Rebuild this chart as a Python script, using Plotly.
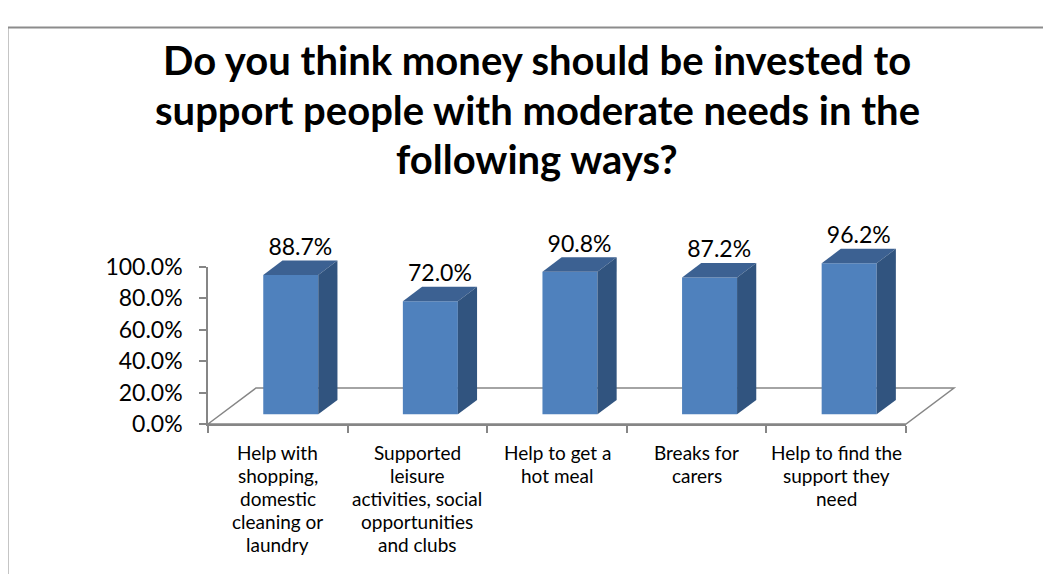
import plotly.graph_objects as go

# ---------------- data ----------------
categories = [
    "Help with<br>shopping,<br>domestic<br>cleaning or<br>laundry",
    "Supported<br>leisure<br>activities, social<br>opportunities<br>and clubs",
    "Help to get a<br>hot meal",
    "Breaks for<br>carers",
    "Help to find the<br>support they<br>need",
]
values = [0.887, 0.720, 0.908, 0.872, 0.962]
value_labels = ["88.7%", "72.0%", "90.8%", "87.2%", "96.2%"]
y_tick_values = [0.0, 0.2, 0.4, 0.6, 0.8, 1.0]
y_tick_labels = ["0.0%", "20.0%", "40.0%", "60.0%", "80.0%", "100.0%"]
title_lines = [
    "Do you think money should be invested to",
    "support people with moderate needs in the",
    "following ways?",
]

# ---------------- geometry (screen pixels) ----------------
OFF = 8                      # page body margin
W, H = 1051 - 2 * OFF, 582 - 2 * OFF


def fx(p):  # screen x pixel -> figure paper fraction
    return (p - OFF) / W


def fy(p):  # screen y pixel -> figure paper fraction
    return 1 - (p - OFF) / H


AX_L, AX_R, AX_T, AX_B = 208, 906, 267, 424      # front axes box (screen px)
n = len(values)
px_x = (AX_R - AX_L) / n          # pixels per category
px_y = (AX_B - AX_T) / 1.0        # pixels per 100%
FLOOR_DX, FLOOR_DY = 48 / px_x, 36 / px_y         # floor depth in data units
F1, F2 = 0.27, 0.67                               # bar depth start/end fractions
BAR_W = 55 / px_x

# main 3D subplot region (screen pixels)
M_L, M_R, M_T, M_B = 120, 1010, 180, 460
x_range = [-0.5 + (M_L - AX_L) / px_x, -0.5 + (M_R - AX_L) / px_x]
y_range = [(AX_B - M_B) / px_y, (AX_B - M_T) / px_y]

FRONT = "#4F81BD"
TOP = "#3C6192"
SIDE = "#31547F"
GRID = "#868686"
FONT = "Lato"

fig = go.Figure()

# front faces of bars
bar_x = [i + F1 * FLOOR_DX for i in range(n)]
base = F1 * FLOOR_DY
fig.add_trace(go.Bar(
    x=bar_x, y=values, base=[base] * n, width=BAR_W,
    marker=dict(color=FRONT, line=dict(width=0)),
    cliponaxis=False, hoverinfo="skip", showlegend=False,
    xaxis="x", yaxis="y",
))

ddx = (F2 - F1) * FLOOR_DX
ddy = (F2 - F1) * FLOOR_DY
for i, v in enumerate(values):
    xl = bar_x[i] - BAR_W / 2
    xr = bar_x[i] + BAR_W / 2
    top = base + v
    fig.add_trace(go.Scatter(   # top face
        x=[xl, xr, xr + ddx, xl + ddx, xl],
        y=[top, top, top + ddy, top + ddy, top],
        fill="toself", fillcolor=TOP, mode="lines", line=dict(width=0, color=TOP),
        hoverinfo="skip", showlegend=False, xaxis="x", yaxis="y",
    ))
    fig.add_trace(go.Scatter(   # side face
        x=[xr, xr, xr + ddx, xr + ddx, xr],
        y=[base, top, top + ddy, base + ddy, base],
        fill="toself", fillcolor=SIDE, mode="lines", line=dict(width=0, color=SIDE),
        hoverinfo="skip", showlegend=False, xaxis="x", yaxis="y",
    ))

# data labels
fig.add_trace(go.Scatter(
    x=[bx + ddx / 2 for bx in bar_x],
    y=[base + v + ddy for v in values],
    text=value_labels, mode="text", textposition="top center",
    textfont=dict(family=FONT, size=23, color="black"),
    cliponaxis=False, hoverinfo="skip", showlegend=False, xaxis="x", yaxis="y",
))

# invisible trace for the front axes subplot
fig.add_trace(go.Scatter(
    x=[0], y=[0], mode="markers", marker=dict(opacity=0),
    hoverinfo="skip", showlegend=False, xaxis="x2", yaxis="y2",
))

floor_path = (f"M {-0.5},{0} L {-0.5 + FLOOR_DX},{FLOOR_DY} "
              f"L {n - 0.5 + FLOOR_DX},{FLOOR_DY} L {n - 0.5},{0} Z")
shapes = [
    dict(type="path", path=floor_path, xref="x", yref="y",
         line=dict(color=GRID, width=1.5), layer="below"),
    dict(type="rect", xref="paper", yref="paper",
         x0=fx(7.5), x1=1.1, y0=-0.1, y1=fy(27.5),
         line=dict(color="#8C8C8C", width=2), layer="below"),
]

annotations = []
title_baselines = [73, 123, 172]
for line, yb in zip(title_lines, title_baselines):
    annotations.append(dict(
        text=line, x=fx(537), y=fy(yb - 13), xref="paper", yref="paper",
        xanchor="center", yanchor="middle", showarrow=False,
        font=dict(family=FONT, size=40, color="black", weight="bold"),
    ))
for i, cat in enumerate(categories):
    for k, line in enumerate(cat.split("<br>")):
        annotations.append(dict(
            text=line, x=i, y=fy(452 + 23 * k), xref="x2", yref="paper",
            xanchor="center", yanchor="middle", showarrow=False,
            font=dict(family=FONT, size=19, color="black"),
        ))

fig.update_layout(
    template="none",
    width=W, height=H, autosize=False,
    margin=dict(l=0, r=0, t=0, b=0, pad=0, autoexpand=False),
    paper_bgcolor="white", plot_bgcolor="rgba(0,0,0,0)",
    showlegend=False,
    shapes=shapes, annotations=annotations,
    xaxis=dict(domain=[fx(M_L), fx(M_R)], range=x_range, visible=False,
               anchor="y", fixedrange=True, automargin=False),
    yaxis=dict(domain=[fy(M_B), fy(M_T)], range=y_range, visible=False,
               anchor="x", fixedrange=True, automargin=False),
    xaxis2=dict(domain=[fx(AX_L), fx(AX_R)], range=[-0.5, n - 0.5], anchor="y2",
                showline=True, linecolor=GRID, linewidth=1.5,
                ticks="outside", ticklen=7, tickcolor=GRID, tickwidth=1.5,
                tickvals=[i - 0.5 for i in range(n + 1)], showticklabels=False,
                showgrid=False, zeroline=False, fixedrange=True, automargin=False),
    yaxis2=dict(domain=[fy(AX_B), fy(AX_T)], range=[0, 1], anchor="x2",
                showline=True, linecolor=GRID, linewidth=1.5,
                ticks="outside", ticklen=7, tickcolor=GRID, tickwidth=1.5,
                tickvals=y_tick_values, ticktext=y_tick_labels,
                tickfont=dict(family=FONT, size=23, color="black"),
                ticklabelstandoff=12,
                showgrid=False, zeroline=False, fixedrange=True, automargin=False),
)

fig.write_html("out.html")
